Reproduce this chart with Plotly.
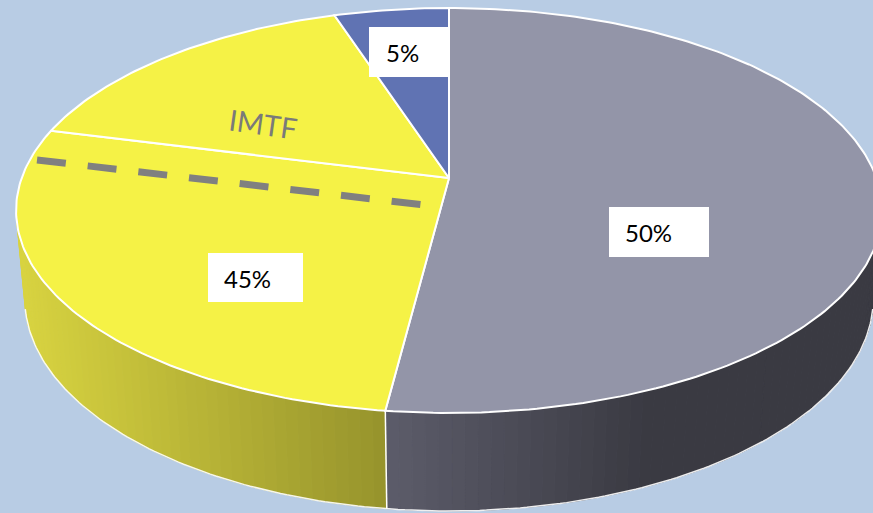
import numpy as np
import plotly.graph_objects as go

# ---------------- data ----------------
categories = ["Grey", "Yellow", "IMTF", "Blue"]        # clockwise from the top
values = [52, 27, 16, 5]                                 # share of the full circle
label_texts = ["50%", "45%", "", "5%"]
top_colors = ["#9395a8", "#f5f246", "#f5f246", "#6073b3"]
imtf_label = "IMTF"

# ---------------- 3D projection of a tilted disc ----------------
W_PX, H_PX = 873, 513
F, D = 2338.0, 5.515
FX = F * 1.008
SB, CB = 0.4653, 0.885
UX, VY = 449.0, 178.0
THICK = 0.237


def project(phi_deg, z=0.0, r=1.0):
    phi = np.radians(phi_deg)
    X = r * np.sin(phi)
    Y = -r * np.cos(phi)
    depth = D - (Y * CB + z * SB)
    up = -Y * SB + z * CB
    return UX + FX * X / depth, VY - F * up / depth


def mix(c0, c1, t):
    t = float(np.clip(t, 0, 1))
    return "rgb(%d,%d,%d)" % tuple(round(a + (b - a) * t) for a, b in zip(c0, c1))


total = float(sum(values))
bounds = np.concatenate([[0.0], np.cumsum(values) / total * 360.0])

fig = go.Figure()

# front-facing part of the side wall
front_lo = 180 - np.degrees(np.arccos(0.205))   # about 101.8 deg
front_hi = 360 - front_lo


def side_color(i, u):
    if i == 0:   # grey slice side
        return mix((92, 92, 106), (58, 58, 66), (u - 387) / 260)
    return mix((216, 211, 64), (150, 147, 44), (u - 20) / 367)


for i in range(len(values)):
    a0, a1 = max(bounds[i], front_lo), min(bounds[i + 1], front_hi)
    if a1 <= a0:
        continue
    n = max(2, int(np.ceil((a1 - a0) / 1.5)))
    ph = np.linspace(a0, a1, n + 1)
    for k in range(n):
        tx0, ty0 = project(ph[k])
        tx1, ty1 = project(ph[k + 1])
        bx1, by1 = project(ph[k + 1], -THICK)
        bx0, by0 = project(ph[k], -THICK)
        col = side_color(i, (tx0 + tx1) / 2)
        fig.add_trace(go.Scatter(
            x=[tx0, tx1, bx1, bx0, tx0], y=[ty0, ty1, by1, by0, ty0],
            mode="lines", fill="toself", fillcolor=col,
            line=dict(color=col, width=1), hoverinfo="skip", showlegend=False))

# bottom rim highlight
ph = np.linspace(front_lo, front_hi, 200)
bx, by = zip(*[project(p, -THICK) for p in ph])
fig.add_trace(go.Scatter(x=bx, y=by, mode="lines",
                         line=dict(color="rgba(255,255,255,0.9)", width=1.5),
                         hoverinfo="skip", showlegend=False))

# vertical edges where slices meet on the front wall
for b in bounds:
    if front_lo < b < front_hi:
        x0, y0 = project(b)
        x1, y1 = project(b, -THICK)
        fig.add_trace(go.Scatter(x=[x0, x1], y=[y0, y1], mode="lines",
                                 line=dict(color="white", width=1.5),
                                 hoverinfo="skip", showlegend=False))

# top faces
for i in range(len(values)):
    ph = np.linspace(bounds[i], bounds[i + 1], max(3, int(values[i] * 4)))
    xs, ys = zip(*[project(p) for p in ph])
    cx, cy = project(0, 0, 0)
    fig.add_trace(go.Scatter(
        x=[cx, *xs, cx], y=[cy, *ys, cy], mode="lines", fill="toself",
        fillcolor=top_colors[i], line=dict(color="white", width=2),
        name=categories[i], hoverinfo="skip", showlegend=False))

# ---------------- labels ----------------
label_boxes = {  # text centre, box extent (x0, x1, y0, y1)
    "50%": ((648, 232), (609, 709, 207, 257)),
    "45%": ((247, 278), (208, 303, 253, 302)),
    "5%": ((402, 52), (369, 449, 27, 77)),
}
shapes = []
annotations = []
for txt in label_texts:
    if not txt:
        continue
    (tx, ty), (x0, x1, y0, y1) = label_boxes[txt]
    shapes.append(dict(type="rect", x0=x0, x1=x1, y0=y0, y1=y1, xref="x", yref="y",
                       fillcolor="white", line=dict(width=0), layer="above"))
    annotations.append(dict(x=tx, y=ty, xref="x", yref="y", text=txt, showarrow=False,
                            font=dict(family="Lato", size=24, color="black")))

annotations.append(dict(x=263, y=123, xref="x", yref="y", text=imtf_label, showarrow=False,
                        textangle=8, font=dict(family="Lato", size=29, color="#7a7a7a")))
shapes.append(dict(type="line", x0=37, y0=160, x1=424, y1=205, xref="x", yref="y",
                   line=dict(color="#808080", width=7, dash="29px,22px"), layer="above"))

fig.update_layout(
    width=W_PX, height=H_PX, margin=dict(l=0, r=0, t=0, b=0),
    paper_bgcolor="#b8cce4", plot_bgcolor="#b8cce4",
    xaxis=dict(range=[0, W_PX], visible=False, fixedrange=True),
    yaxis=dict(range=[H_PX, 0], visible=False, fixedrange=True),
    shapes=shapes, annotations=annotations,
)

fig.write_html("out.html", config={"displayModeBar": False},
               post_script="document.body.style.margin='0px';")
